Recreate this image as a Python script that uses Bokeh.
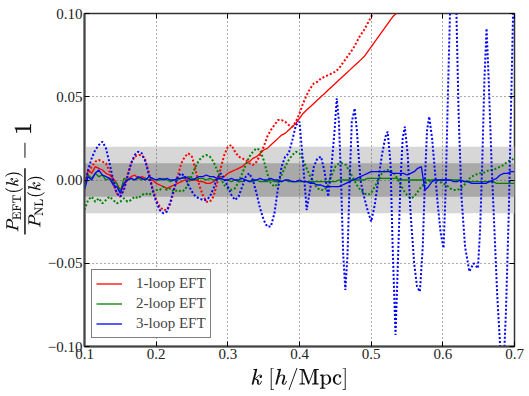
from bokeh.plotting import figure
from bokeh.models import (BoxAnnotation, FixedTicker, Legend, LegendItem,
                          LinearAxis)
from bokeh.embed import file_html
from bokeh.resources import INLINE

# ---------------- data ----------------
x_ticks = [0.1, 0.2, 0.3, 0.4, 0.5, 0.6, 0.7]
x_tick_labels = ["0.1", "0.2", "0.3", "0.4", "0.5", "0.6", "0.7"]
y_ticks = [-0.1, -0.05, 0.0, 0.05, 0.1]
y_tick_labels = ["\u22120.10", "\u22120.05", "0.00", "0.05", "0.10"]
bands = [0.02, 0.01]
series_names = ["1-loop EFT", "2-loop EFT", "3-loop EFT"]

# k grid (step 0.005) for the solid curves
k_grid = [round(0.1 + 0.005 * i, 3) for i in range(121)]

red_solid = [
    -0.004, 0.006, 0.004, 0.008, 0.007, 0.006, 0.004, 0.003, 0.001, -0.002,
    -0.006, -0.003, 0.000, 0.002, 0.003, 0.001, 0.002, 0.001, 0.000, 0.000,
    -0.002, -0.003, -0.004, -0.005, -0.004, -0.003, -0.002, -0.001, 0.000, 0.000,
    0.000, 0.000, -0.001, -0.001, -0.002, -0.002, -0.001, 0.001, 0.002, 0.002,
    0.004, 0.005, 0.006, 0.007, 0.008, 0.010, 0.011, 0.013, 0.014, 0.016,
    0.018, 0.019, 0.021, 0.023, 0.025, 0.027, 0.028, 0.030, 0.032, 0.034,
    0.037, 0.040, 0.042, 0.044, 0.046, 0.048, 0.050, 0.052, 0.054, 0.056,
    0.058, 0.060, 0.062, 0.064, 0.066, 0.068, 0.070, 0.072, 0.074, 0.077,
    0.080, 0.083, 0.086, 0.089, 0.092, 0.095, 0.098, 0.100, 0.103,
]

green_solid = [
    -0.004, 0.003, 0.001, 0.004, 0.002, 0.003, 0.000, 0.001, -0.001, -0.002,
    -0.007, 0.001, 0.000, 0.001, 0.000, 0.001, 0.000, 0.001, 0.000, 0.001,
    0.000, 0.000, 0.001, 0.000, -0.001, 0.000, 0.000, 0.001, 0.001, 0.002,
    0.001, 0.000, 0.001, 0.001, 0.000, 0.001, 0.000, 0.000, 0.001, 0.000,
    0.000, -0.001, 0.000, -0.001, -0.001, 0.000, -0.001, -0.001, 0.000, -0.001,
    -0.001, -0.001, 0.000, -0.001, -0.001, -0.001, 0.000, -0.001, -0.001, -0.001,
    -0.001, -0.001, -0.001, -0.001, -0.001, -0.001, -0.001, -0.001, -0.001, -0.001,
    -0.001, 0.000, 0.000, 0.000, 0.000, 0.000, 0.000, 0.000, 0.000, 0.001,
    0.001, 0.001, 0.001, 0.001, 0.001, 0.001, 0.001, 0.001, 0.000, 0.000,
    0.000, 0.000, 0.000, 0.000, 0.000, 0.000, 0.000, 0.000, 0.000, 0.000,
    0.000, 0.000, 0.000, 0.000, 0.000, 0.000, -0.001, -0.001, -0.001, -0.001,
    -0.001, -0.001, -0.001, -0.001, -0.001, -0.002, -0.002, -0.002, -0.002, -0.002,
    -0.002,
]

blue_solid = [
    -0.006, 0.002, 0.000, 0.004, 0.006, 0.003, 0.002, 0.001, -0.003, -0.004,
    -0.008, -0.002, 0.000, 0.001, 0.000, 0.002, 0.001, 0.000, 0.002, 0.001,
    0.000, 0.001, 0.000, 0.001, 0.000, 0.000, 0.001, 0.001, 0.002, 0.001,
    0.000, 0.001, 0.002, 0.002, 0.003, 0.002, 0.002, 0.001, 0.001, 0.000,
    0.000, 0.001, 0.000, 0.000, 0.001, 0.000, -0.001, 0.000, 0.000, 0.001,
    0.000, 0.000, 0.001, 0.000, 0.000, -0.001, 0.000, 0.000, -0.001, -0.001,
    0.000, -0.001, -0.001, -0.002, -0.002, -0.003, -0.003, -0.004, -0.004, -0.004,
    -0.004, -0.004, -0.003, -0.002, -0.001, 0.000, 0.001, 0.002, 0.003, 0.004,
    0.005, 0.005, 0.005, 0.005, 0.005, 0.005, 0.004, 0.004, 0.004, 0.004,
    0.003, 0.004, 0.005, 0.007, 0.008, -0.006, -0.004, -0.001, 0.000, 0.000,
    0.000, 0.000, 0.000, -0.001, -0.001, 0.000, -0.001, -0.001, -0.002, -0.002,
    -0.002, -0.002, -0.002, -0.001, 0.000, 0.001, 0.003, 0.004, 0.004, 0.005,
    0.005,
]

# dotted curves: (k, value) samples
red_dot_k = [
    0.100, 0.105, 0.110, 0.115, 0.120, 0.125, 0.130, 0.135, 0.140, 0.145,
    0.150, 0.155, 0.160, 0.165, 0.170, 0.175, 0.180, 0.185, 0.190, 0.195,
    0.200, 0.205, 0.210, 0.215, 0.220, 0.225, 0.230, 0.235, 0.240, 0.245,
    0.250, 0.255, 0.260, 0.265, 0.270, 0.275, 0.280, 0.285, 0.290, 0.295,
    0.300, 0.305, 0.310, 0.315, 0.320, 0.325, 0.330, 0.335, 0.340, 0.345,
    0.350, 0.355, 0.360, 0.365, 0.370, 0.375, 0.380, 0.385, 0.390, 0.395,
    0.400, 0.405, 0.410, 0.415, 0.420, 0.425, 0.430, 0.435, 0.440, 0.445,
    0.450, 0.455, 0.460, 0.465, 0.470, 0.475, 0.480, 0.485, 0.490, 0.495,
    0.500, 0.505,
]
red_dot = [
    -0.002, 0.004, 0.008, 0.011, 0.012, 0.011, 0.010, 0.005, -0.002, -0.008,
    -0.010, -0.005, 0.003, 0.010, 0.014, 0.015, 0.015, 0.012, 0.004, -0.005,
    -0.012, -0.016, -0.018, -0.018, -0.014, -0.006, 0.002, 0.010, 0.014, 0.016,
    0.014, 0.006, -0.003, -0.009, -0.013, -0.013, -0.010, -0.002, 0.007, 0.015,
    0.020, 0.021, 0.017, 0.014, 0.013, 0.012, 0.010, 0.009, 0.011, 0.015,
    0.020, 0.026, 0.030, 0.033, 0.036, 0.036, 0.035, 0.033, 0.032, 0.035,
    0.040, 0.046, 0.051, 0.055, 0.058, 0.059, 0.061, 0.062, 0.063, 0.064,
    0.065, 0.067, 0.070, 0.073, 0.076, 0.079, 0.083, 0.087, 0.090, 0.094,
    0.098, 0.102,
]

green_dot = [
    -0.018, -0.012, -0.010, -0.013, -0.011, -0.014, -0.012, -0.010, -0.012, -0.014,
    -0.013, -0.011, -0.013, -0.012, -0.010, -0.011, -0.009, -0.008, -0.009, -0.007,
    -0.006, -0.006, -0.004, -0.006, -0.005, -0.007, -0.006, -0.007, -0.006, -0.002,
    0.003, 0.008, 0.012, 0.014, 0.015, 0.014, 0.011, 0.006, 0.001, -0.003,
    -0.005, -0.006, -0.005, -0.001, 0.004, 0.009, 0.014, 0.017, 0.019, 0.018,
    0.012, 0.004, -0.002, -0.004, -0.002, 0.003, 0.008, 0.012, 0.015, 0.017,
    0.016, 0.012, 0.007, 0.002, -0.002, -0.005, -0.006, -0.006, -0.003, 0.003,
    0.008, 0.010, 0.010, 0.009, 0.005, 0.001, -0.003, -0.006, -0.008, -0.009,
    -0.008, -0.004, 0.000, 0.004, 0.006, 0.006, 0.005, 0.002, -0.002, -0.006,
    -0.009, -0.011, -0.010, -0.007, -0.004, -0.002, -0.001, 0.000, 0.000, -0.001,
    -0.002, -0.003, -0.005, -0.006, -0.006, -0.005, -0.003, 0.000, 0.002, 0.003,
    0.004, 0.004, 0.005, 0.006, 0.006, 0.007, 0.008, 0.009, 0.011, 0.012,
    0.013,
]

blue_dot_k = [
    0.100, 0.105, 0.110, 0.115, 0.120, 0.125, 0.130, 0.135, 0.140, 0.145,
    0.150, 0.155, 0.160, 0.165, 0.170, 0.175, 0.180, 0.185, 0.190, 0.195,
    0.200, 0.205, 0.210, 0.215, 0.220, 0.225, 0.230, 0.235, 0.240, 0.245,
    0.250, 0.255, 0.260, 0.265, 0.270, 0.275, 0.280, 0.285, 0.290, 0.295,
    0.300, 0.305, 0.310, 0.315, 0.320, 0.325, 0.330, 0.335, 0.340, 0.345,
    0.350, 0.355, 0.360, 0.365, 0.370, 0.375, 0.380, 0.385, 0.390, 0.395,
    0.400, 0.405, 0.410, 0.415, 0.420, 0.425, 0.430, 0.435, 0.440, 0.445,
    0.449, 0.452, 0.455, 0.458, 0.461, 0.464, 0.467, 0.470, 0.473, 0.477,
    0.480, 0.485, 0.490, 0.495, 0.500, 0.505, 0.510, 0.515, 0.520, 0.523,
    0.527, 0.530, 0.534, 0.538, 0.541, 0.544, 0.547, 0.551, 0.555, 0.560,
    0.564, 0.568, 0.572, 0.575, 0.578, 0.581, 0.585, 0.589, 0.593, 0.597,
    0.601, 0.604, 0.607, 0.610, 0.614, 0.619, 0.622, 0.626, 0.631, 0.637,
    0.643, 0.649, 0.652, 0.655, 0.658, 0.661, 0.664, 0.668, 0.672, 0.676,
    0.680, 0.684, 0.688, 0.692, 0.695, 0.698, 0.700,
]
blue_dot = [
    -0.004, 0.006, 0.013, 0.018, 0.021, 0.023, 0.019, 0.010, 0.000, -0.008,
    -0.010, -0.006, 0.002, 0.010, 0.015, 0.017, 0.016, 0.011, 0.003, -0.006,
    -0.013, -0.018, -0.020, -0.019, -0.013, -0.005, 0.002, 0.004, 0.002, -0.003,
    -0.007, -0.010, -0.011, -0.012, -0.012, -0.010, -0.005, 0.001, 0.004, 0.001,
    -0.004, -0.009, -0.012, -0.010, -0.004, 0.002, 0.004, 0.000, -0.008, -0.017,
    -0.024, -0.028, -0.028, -0.020, -0.005, 0.008, 0.014, 0.016, 0.024, 0.033,
    0.035, 0.010, -0.018, -0.005, 0.008, 0.013, 0.014, 0.005, -0.010, 0.010,
    0.030, 0.049, 0.035, 0.000, -0.045, -0.066, -0.045, 0.000, 0.035, 0.043,
    0.030, 0.000, -0.010, -0.018, -0.025, -0.015, 0.000, 0.015, 0.026, 0.029,
    0.010, -0.040, -0.093, -0.040, 0.000, 0.025, 0.032, 0.015, -0.020, -0.050,
    -0.064, -0.067, -0.040, 0.000, 0.030, 0.038, 0.025, 0.005, -0.015, -0.032,
    -0.041, -0.005, 0.050, 0.100, 0.150, 0.100, 0.040, -0.010, -0.040, -0.055,
    -0.050, -0.053, -0.030, 0.010, 0.060, 0.091, 0.060, 0.010, -0.030, -0.070,
    -0.100, -0.120, -0.080, -0.020, 0.040, 0.100, 0.140,
]

# ---------------- figure ----------------
FONT = "Liberation Serif"

p = figure(frame_width=430, frame_height=333,
           x_range=(x_ticks[0], x_ticks[-1]), y_range=(y_ticks[0], y_ticks[-1]),
           output_backend="svg", toolbar_location=None,
           min_border_left=84, min_border_right=15, min_border_top=13,
           min_border_bottom=48)
p.background_fill_color = "white"
p.border_fill_color = "white"
p.outline_line_color = "#333333"
p.outline_line_width = 1.5

# bands (drawn under grid)
light = BoxAnnotation(bottom=-bands[0], top=bands[0], fill_color="#d7d7d7",
                      fill_alpha=1.0, line_color=None, level="image")
dark = BoxAnnotation(bottom=-bands[1], top=bands[1], fill_color="#a9a9a9",
                     fill_alpha=1.0, line_color=None, level="image")
p.add_layout(light)
p.add_layout(dark)

# axes
p.xaxis.ticker = FixedTicker(ticks=x_ticks)
p.yaxis.ticker = FixedTicker(ticks=y_ticks)
p.xaxis.major_label_overrides = {t: l for t, l in zip(x_ticks, x_tick_labels)}
p.yaxis.major_label_overrides = {t: l for t, l in zip(y_ticks, y_tick_labels)}
for ax in (p.xaxis[0], p.yaxis[0]):
    ax.major_tick_in = 5
    ax.major_tick_out = 0
    ax.minor_tick_line_color = None
    ax.major_tick_line_color = "black"
    ax.axis_line_color = "#444444"
    ax.axis_line_width = 2
    ax.major_label_text_font = FONT
    ax.major_label_text_font_size = "15px"
    ax.major_label_text_color = "#222222"
    ax.axis_label_text_font_style = "normal"
    ax.axis_label_text_color = "#111111"

p.yaxis.major_label_standoff = 2
p.xaxis.major_label_standoff = 2
p.yaxis.axis_label = r"\(\frac{P_{\mathrm{EFT}}(k)}{P_{\mathrm{NL}}(k)} - 1\)"
p.yaxis.axis_label_text_font_size = "20px"
p.yaxis.axis_label_standoff = 0
p.xaxis.axis_label = r"\(k\ [h/\mathrm{Mpc}]\)"
p.xaxis.axis_label_text_font_size = "18px"
p.xaxis.axis_label_standoff = 6

# tick marks on top and right (minor ticks only, so no labels)
top_ax = LinearAxis(ticker=FixedTicker(ticks=[], minor_ticks=x_ticks),
                    major_tick_line_color=None, minor_tick_in=5,
                    minor_tick_out=0, minor_tick_line_color="black",
                    axis_line_color=None, major_label_standoff=0)
right_ax = LinearAxis(ticker=FixedTicker(ticks=[], minor_ticks=y_ticks),
                      major_tick_line_color=None, minor_tick_in=5,
                      minor_tick_out=0, minor_tick_line_color="black",
                      axis_line_color=None, major_label_standoff=0)
p.add_layout(top_ax, "above")
p.add_layout(right_ax, "right")

# grid
p.grid.grid_line_color = "#555555"
p.grid.grid_line_dash = "1 3"
p.grid.grid_line_width = 1
p.xgrid.ticker = FixedTicker(ticks=x_ticks)
p.ygrid.ticker = FixedTicker(ticks=y_ticks)

# curves
dot_dash = "2 2"
r1 = p.line(k_grid[:len(red_solid)], red_solid, line_color="red", line_width=1.3)
p.line(red_dot_k, red_dot, line_color="red", line_width=2, line_dash=dot_dash)
r2 = p.line(k_grid[:len(green_solid)], green_solid, line_color="green", line_width=1.3)
p.line(k_grid[:len(green_dot)], green_dot, line_color="green", line_width=2, line_dash=dot_dash)
r3 = p.line(k_grid[:len(blue_solid)], blue_solid, line_color="blue", line_width=1.3)
p.line(blue_dot_k, blue_dot, line_color="blue", line_width=2, line_dash=dot_dash)

legend = Legend(items=[LegendItem(label=series_names[0], renderers=[r1]),
                       LegendItem(label=series_names[1], renderers=[r2]),
                       LegendItem(label=series_names[2], renderers=[r3])],
                location=(7, 8))
legend.label_text_font = FONT
legend.label_text_font_size = "15px"
legend.label_height = 19
legend.glyph_height = 19
legend.glyph_width = 26
legend.label_standoff = 14
legend.spacing = 1
legend.padding = 4
legend.margin = 0
legend.border_line_color = "black"
legend.border_line_width = 1.5
legend.background_fill_color = "white"
legend.background_fill_alpha = 1.0
p.add_layout(legend, "center")

open("out.html", "w").write(file_html(p, INLINE))
